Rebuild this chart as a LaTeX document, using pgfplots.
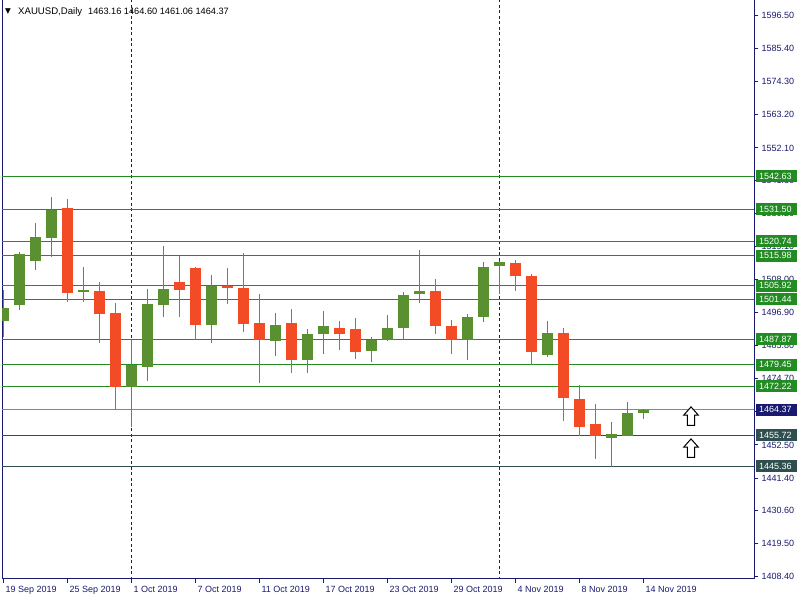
\documentclass[border=0pt]{standalone}
\usepackage{pgfplots}
\pgfplotsset{compat=1.18}
\usepackage{pgfplotstable}
\usepackage{fontspec}
\setmainfont{Liberation Sans}
\newfontfamily\dejavu{DejaVu Sans}

\definecolor{axiscol}{RGB}{25,25,112}
\definecolor{bull}{RGB}{90,145,48}
\definecolor{bear}{RGB}{243,75,38}
\definecolor{lvlgreen}{RGB}{34,139,34}
\definecolor{curline}{RGB}{119,136,153}
\definecolor{curbox}{RGB}{25,25,112}
\definecolor{slate}{RGB}{47,79,79}

\pgfplotstableread{
x o h l c
0 1493.95 1504.58 1488.58 1498.54
1 1499.31 1517.09 1497.64 1516.66
2 1514.07 1527.06 1511.29 1522.36
3 1521.79 1535.78 1515.42 1531.32
5 1503.67 1512.30 1500.32 1504.58
8 1472.04 1487.71 1458.62 1479.42
9 1478.51 1504.92 1474.05 1499.88
10 1499.31 1519.34 1495.52 1504.92
13 1492.84 1509.61 1486.80 1505.82
17 1487.24 1496.87 1482.44 1492.84
19 1480.86 1491.50 1476.74 1489.82
20 1489.82 1497.54 1483.11 1492.51
23 1484.12 1488.81 1480.43 1487.81
24 1487.81 1496.19 1487.50 1491.83
25 1491.83 1503.91 1487.60 1502.90
26 1503.24 1518.00 1500.22 1504.25
29 1487.57 1496.53 1480.86 1495.52
30 1495.29 1513.97 1493.61 1512.30
31 1512.40 1514.10 1503.00 1513.97
34 1482.54 1494.18 1481.87 1490.16
38 1454.70 1460.30 1445.20 1456.27
39 1455.50 1467.01 1455.40 1463.32
40 1463.16 1464.60 1461.06 1464.37
}\bulltab

\pgfplotstableread{
x o h l c
4 1532.09 1535.11 1500.32 1503.34
6 1504.25 1507.27 1486.57 1496.29
7 1496.87 1500.22 1464.23 1472.04
11 1507.27 1515.75 1495.52 1504.35
12 1511.96 1512.20 1487.71 1492.84
14 1505.82 1511.96 1499.65 1505.25
15 1505.25 1516.99 1490.49 1493.18
16 1493.51 1503.24 1473.38 1487.71
18 1493.51 1498.21 1476.74 1480.86
21 1491.83 1494.18 1484.45 1489.82
22 1491.50 1495.19 1481.43 1483.78
27 1504.25 1508.27 1489.58 1492.27
28 1492.51 1494.52 1483.11 1487.57
32 1513.64 1514.65 1504.01 1509.04
33 1509.28 1509.71 1479.32 1483.55
35 1490.16 1491.83 1460.40 1468.12
36 1468.01 1472.71 1455.50 1458.39
37 1459.39 1466.34 1447.65 1455.37
}\beartab

\pgfdeclareplotmark{hollowup}{%
  \pgfpathmoveto{\pgfpoint{0pt}{9.2pt}}%
  \pgfpathlineto{\pgfpoint{7.3pt}{1pt}}%
  \pgfpathlineto{\pgfpoint{3.6pt}{1pt}}%
  \pgfpathlineto{\pgfpoint{3.6pt}{-9.2pt}}%
  \pgfpathlineto{\pgfpoint{-3.6pt}{-9.2pt}}%
  \pgfpathlineto{\pgfpoint{-3.6pt}{1pt}}%
  \pgfpathlineto{\pgfpoint{-7.3pt}{1pt}}%
  \pgfpathclose
  \pgfusepathqfillstroke}

\tikzset{lbl/.style={anchor=west, xshift=2pt, text=white, inner xsep=3pt, inner ysep=0pt,
  minimum height=12pt, text width=35pt, align=left, font=\fontsize{9}{10}\selectfont}}

\begin{document}
\begin{tikzpicture}[font=\fontsize{9}{10}\selectfont]
\begin{axis}[name=ax, scale only axis, width=752pt, height=578pt,
  xmin=-0.09375, xmax=46.90625, ymin=1407.73, ymax=1601.53,
  set layers, clip mode=individual,
  axis x line*=bottom, axis y line*=right,
  axis line style={axiscol, line width=1pt},
  tick align=outside, major tick length=4pt,
  tick style={axiscol, line width=1pt},
  xtick={0,4,...,40},
  xticklabels={19 Sep 2019,25 Sep 2019,1 Oct 2019,7 Oct 2019,11 Oct 2019,17 Oct 2019,23 Oct 2019,29 Oct 2019,4 Nov 2019,8 Nov 2019,14 Nov 2019},
  ytick={1596.5,1585.4,1574.3,1563.2,1552.1,1541.3,1530.2,1519.1,1508.0,1496.9,1485.8,1474.7,1463.6,1452.5,1441.4,1430.6,1419.5,1408.4},
  yticklabels={1596.50,1585.40,1574.30,1563.20,1552.10,1541.30,1530.20,1519.10,1508.00,1496.90,1485.80,1474.70,1463.60,1452.50,1441.40,1430.60,1419.50,1408.40},
  ticklabel style={text=axiscol, font=\fontsize{9}{10}\selectfont},
  xticklabel style={anchor=north west, xshift=-1.5pt},
  yticklabel style={anchor=west},
  candle/.style={draw=none, mark=none, error bars/.cd, y dir=both, y explicit, error mark=none,
     error bar style={draw=#1, line width=1.3pt}},
  body/.style={draw=none, mark=none, error bars/.cd, y dir=both, y explicit, error mark=none,
     error bar style={draw=#1, line width=11pt}},
]
% left frame line
\draw[axiscol, line width=1pt] (rel axis cs:0,0) -- (rel axis cs:0,1);
% period separators
\addplot[axiscol, line width=1pt, dash pattern=on 3pt off 2.5pt] coordinates {(8,1400) (8,1610)};
\addplot[axiscol, line width=1pt, dash pattern=on 3pt off 2.5pt] coordinates {(31,1400) (31,1610)};
% levels
\pgfplotsinvokeforeach{1542.63,1531.50,1520.74,1515.98,1505.92,1501.44,1487.87,1479.45,1472.22}{
  \addplot[lvlgreen, line width=1pt] coordinates {(-1,#1) (48,#1)};
}
\addplot[curline, line width=1pt] coordinates {(-1,1464.37) (48,1464.37)};
\addplot[slate, line width=1pt] coordinates {(-1,1455.72) (48,1455.72)};
\addplot[slate, line width=1pt] coordinates {(-1,1445.36) (48,1445.36)};
% wicks
\addplot[bull, candle=bull]
  table[x=x, y expr={(\thisrow{h}+\thisrow{l})/2}, y error expr={(\thisrow{h}-\thisrow{l})/2}] {\bulltab};
\addplot[bear, candle=bear]
  table[x=x, y expr={(\thisrow{h}+\thisrow{l})/2}, y error expr={(\thisrow{h}-\thisrow{l})/2}] {\beartab};
% bodies
\addplot[bull, body=bull]
  table[x=x, y expr={(\thisrow{o}+\thisrow{c})/2}, y error expr={abs(\thisrow{o}-\thisrow{c})/2}] {\bulltab};
\addplot[bear, body=bear]
  table[x=x, y expr={(\thisrow{o}+\thisrow{c})/2}, y error expr={abs(\thisrow{o}-\thisrow{c})/2}] {\beartab};
% arrows
\addplot[only marks, mark=hollowup, mark options={draw=black, fill=white, line width=1pt}]
  coordinates {(42.97,1462.18) (42.97,1451.44)};
% title
\node[anchor=center, inner sep=0pt, text=black, font=\dejavu\fontsize{7.5}{7.5}\selectfont, xshift=6pt, yshift=-11pt] at (rel axis cs:0,1) {▼};
\node[anchor=base west, inner sep=0pt, text=black, font=\fontsize{9.6}{10}\selectfont, xshift=16pt, yshift=-14.5pt] at (rel axis cs:0,1) {XAUUSD,Daily};
\node[anchor=base west, inner sep=0pt, text=black, font=\fontsize{9.2}{10}\selectfont, xshift=86pt, yshift=-14.5pt] at (rel axis cs:0,1) {1463.16 1464.60 1461.06 1464.37};
% price labels
\node[lbl, fill=lvlgreen] at (axis cs:46.90625,1542.63) {1542.63};
\node[lbl, fill=lvlgreen] at (axis cs:46.90625,1531.50) {1531.50};
\node[lbl, fill=lvlgreen] at (axis cs:46.90625,1520.74) {1520.74};
\node[lbl, fill=lvlgreen] at (axis cs:46.90625,1515.98) {1515.98};
\node[lbl, fill=lvlgreen] at (axis cs:46.90625,1505.92) {1505.92};
\node[lbl, fill=lvlgreen] at (axis cs:46.90625,1501.44) {1501.44};
\node[lbl, fill=lvlgreen] at (axis cs:46.90625,1487.87) {1487.87};
\node[lbl, fill=lvlgreen] at (axis cs:46.90625,1479.45) {1479.45};
\node[lbl, fill=lvlgreen] at (axis cs:46.90625,1472.22) {1472.22};
\node[lbl, fill=curbox] at (axis cs:46.90625,1464.37) {1464.37};
\node[lbl, fill=slate] at (axis cs:46.90625,1455.72) {1455.72};
\node[lbl, fill=slate] at (axis cs:46.90625,1445.36) {1445.36};
\end{axis}
\path ([xshift=-2pt,yshift=-22pt]ax.south west) rectangle ([xshift=46pt]ax.north east);
\end{tikzpicture}
\end{document}
